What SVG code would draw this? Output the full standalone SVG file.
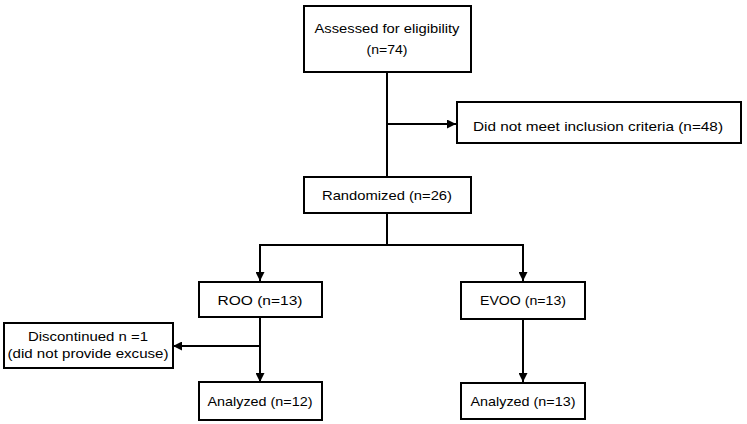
<svg xmlns="http://www.w3.org/2000/svg" width="747" height="424" viewBox="0 0 747 424">
<style>
.box{fill:#fff;stroke:#000;stroke-width:2}
.t{font-family:"Liberation Sans",Arial,sans-serif;font-size:13.5px;fill:#000;text-anchor:middle}
.c{fill:none;stroke:#000;stroke-width:2}
</style>
<defs>
<marker id="ah" viewBox="0 0 10 10" refX="10" refY="5" markerWidth="4.5" markerHeight="4.5" orient="auto" markerUnits="strokeWidth">
<path d="M0,0 L10,5 L0,10 z" fill="#000"/>
</marker>
</defs>
<rect width="747" height="424" fill="#fff"/>
<g id="connectors">
<path class="c" d="M387,72 V177"/>
<path class="c" d="M387,124 H456" marker-end="url(#ah)"/>
<path class="c" d="M387,213 V245 H260 V281" marker-end="url(#ah)"/>
<path class="c" d="M387,245 H523 V281" marker-end="url(#ah)"/>
<path class="c" d="M260,317 V382" marker-end="url(#ah)"/>
<path class="c" d="M260,346 H173" marker-end="url(#ah)"/>
<path class="c" d="M523,319 V382" marker-end="url(#ah)"/>
</g>
<g id="assessed">
<rect class="box" x="304" y="6" width="167" height="66"/>
<text class="t" x="387" y="33" textLength="145" lengthAdjust="spacingAndGlyphs">Assessed for eligibility</text>
<text class="t" x="387" y="54" textLength="41" lengthAdjust="spacingAndGlyphs">(n=74)</text>
</g>
<g id="excluded">
<rect class="box" x="457" y="102" width="284" height="41"/>
<text class="t" x="598" y="131" textLength="250" lengthAdjust="spacingAndGlyphs">Did not meet inclusion criteria (n=48)</text>
</g>
<g id="randomized">
<rect class="box" x="304" y="177" width="167" height="36"/>
<text class="t" x="387" y="200" textLength="130" lengthAdjust="spacingAndGlyphs">Randomized (n=26)</text>
</g>
<g id="roo">
<rect class="box" x="199" y="282" width="123" height="35"/>
<text class="t" x="260" y="305" textLength="85" lengthAdjust="spacingAndGlyphs">ROO (n=13)</text>
</g>
<g id="evoo">
<rect class="box" x="461" y="282" width="124" height="37"/>
<text class="t" x="523" y="305" textLength="86" lengthAdjust="spacingAndGlyphs">EVOO (n=13)</text>
</g>
<g id="discontinued">
<rect class="box" x="4" y="323" width="169" height="45"/>
<text class="t" x="88" y="341" textLength="120" lengthAdjust="spacingAndGlyphs">Discontinued n =1</text>
<text class="t" x="88" y="358" textLength="161" lengthAdjust="spacingAndGlyphs">(did not provide excuse)</text>
</g>
<g id="analyzed-roo">
<rect class="box" x="199" y="382" width="123" height="38"/>
<text class="t" x="260" y="406" textLength="105" lengthAdjust="spacingAndGlyphs">Analyzed (n=12)</text>
</g>
<g id="analyzed-evoo">
<rect class="box" x="461" y="383" width="124" height="36"/>
<text class="t" x="523" y="406" textLength="105" lengthAdjust="spacingAndGlyphs">Analyzed (n=13)</text>
</g>
</svg>
